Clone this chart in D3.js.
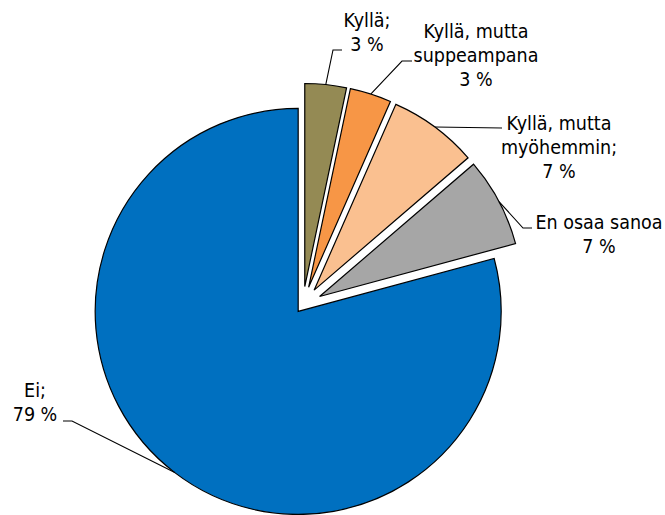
<!DOCTYPE html>
<html>
<head>
<meta charset="utf-8">
<script src="https://cdn.jsdelivr.net/npm/d3@7"></script>
<style>
  html, body { margin: 0; padding: 0; background: #fff; }
  svg { display: block; }
  .lbl { font-family: "DejaVu Sans Condensed", "DejaVu Sans", sans-serif; font-stretch: condensed; font-size: 19.5px; fill: #000; }
</style>
</head>
<body>
<div id="chart"></div>
<script>
// Data
const categories = ['Kyllä', 'Kyllä, mutta suppeampana', 'Kyllä, mutta myöhemmin', 'En osaa sanoa', 'Ei'];
const values = [3.3, 3.3, 7.1, 7.1, 79.2];
const shownPct = ['3 %', '3 %', '7 %', '7 %', '79 %'];
const labelText = [['Kyllä;'], ['Kyllä, mutta', 'suppeampana'], ['Kyllä, mutta', 'myöhemmin;'], ['En osaa sanoa'], ['Ei;']];
const colors = ['#948A54', '#F79646', '#FAC090', '#A6A6A6', '#0070C0'];

// Layout
const W = 665, H = 515;
const cx = 302.8, cy = 305.4, R = 203;
const explode = [19, 19, 19, 19, 7.6];
const lineH = 24;
// label block: centre x, first line centre y, leader elbow + end
const labelPos = [
  { x: 367, y: 20, elbow: [333, 50], end: [342, 50] },
  { x: 476, y: 31, elbow: [402, 61], end: [412, 61] },
  { x: 559, y: 123, elbow: null, end: [502, 128] },
  { x: 599, y: 222, elbow: [523, 228], end: [532, 228] },
  { x: 35, y: 390, elbow: [72, 421], end: [63, 421] },
];

const svg = d3.select('#chart').append('svg')
  .attr('width', W).attr('height', H);

const pie = d3.pie().sort(null).value(d => d).startAngle(0).endAngle(2 * Math.PI);
const arcs = pie(values);
const arc = d3.arc().innerRadius(0).outerRadius(R);

const mid = d => (d.startAngle + d.endAngle) / 2;
const off = (d, i) => [cx + explode[i] * Math.sin(mid(d)), cy - explode[i] * Math.cos(mid(d))];

// slices
svg.append('g').selectAll('path')
  .data(arcs)
  .join('path')
  .attr('transform', (d, i) => `translate(${off(d, i)})`)
  .attr('d', arc)
  .attr('fill', (d, i) => colors[i])
  .attr('stroke', '#000')
  .attr('stroke-width', 1.2)
  .attr('stroke-linejoin', 'miter');

// leader lines
svg.append('g').selectAll('polyline')
  .data(arcs)
  .join('polyline')
  .attr('points', (d, i) => {
    const o = off(d, i);
    const a = mid(d);
    const p0 = [o[0] + R * Math.sin(a), o[1] - R * Math.cos(a)];
    const lp = labelPos[i];
    const pts = [p0];
    if (lp.elbow) pts.push(lp.elbow);
    pts.push(lp.end);
    return pts.map(p => p.join(',')).join(' ');
  })
  .attr('fill', 'none')
  .attr('stroke', '#000')
  .attr('stroke-width', 1.1);

// labels
const lbl = svg.append('g').selectAll('text')
  .data(arcs)
  .join('text')
  .attr('class', 'lbl')
  .attr('text-anchor', 'middle');

lbl.each(function (d, i) {
  const lines = labelText[i].concat([shownPct[i]]);
  const lp = labelPos[i];
  d3.select(this).selectAll('tspan')
    .data(lines)
    .join('tspan')
    .attr('x', lp.x)
    .attr('y', (t, j) => lp.y + j * lineH)
    .attr('dy', '0.35em')
    .text(t => t);
});
</script>
</body>
</html>
